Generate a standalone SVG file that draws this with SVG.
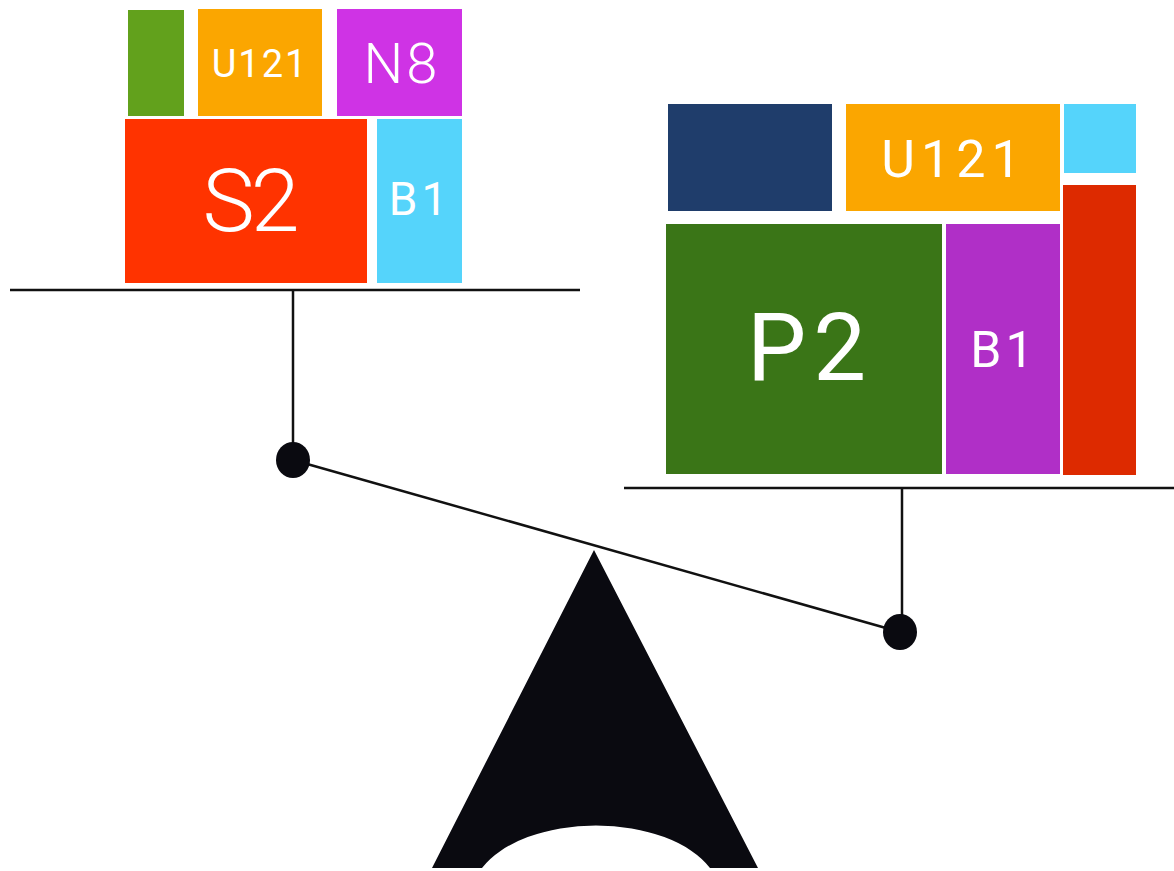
<svg xmlns="http://www.w3.org/2000/svg" width="1174" height="871" viewBox="0 0 1174 871">
<style>
.lbl{font-family:Roboto,"Liberation Sans",sans-serif;font-weight:400;fill:#ffffff;text-anchor:middle}
.thin{font-weight:300}
.bar{stroke:#111;stroke-width:2.5;fill:none}
.dot{fill:#0a0a10}
</style>
<rect width="1174" height="871" fill="#ffffff"/>
<g id="left-pan">
  <g id="l-green"><rect x="128" y="10" width="56" height="106" fill="#62a11c"/></g>
  <g id="l-u121"><rect x="198" y="9" width="124" height="107" fill="#fba600"/><text class="lbl" x="260" y="77" font-size="38" letter-spacing="2">U121</text></g>
  <g id="l-n8"><rect x="337" y="9" width="125" height="107" fill="#cf33e5"/><text class="lbl thin" x="402" y="83" font-size="56" letter-spacing="3">N8</text></g>
  <g id="l-s2"><rect x="125" y="119" width="242" height="164" fill="#ff3300"/><text class="lbl thin" x="249" y="231" font-size="88" letter-spacing="-4">S2</text></g>
  <g id="l-b1"><rect x="377" y="119" width="85" height="164" fill="#55d4fb"/><text class="lbl" x="420" y="215" font-size="46" letter-spacing="4">B1</text></g>
</g>
<g id="right-pan">
  <g id="r-navy"><rect x="668" y="104" width="164" height="107" fill="#1f3d6b"/></g>
  <g id="r-u121"><rect x="846" y="104" width="214" height="107" fill="#fba600"/><text class="lbl" x="954" y="177" font-size="52" letter-spacing="6">U121</text></g>
  <g id="r-cyan"><rect x="1064" y="104" width="72" height="69" fill="#55d4fb"/></g>
  <g id="r-red"><rect x="1063" y="185" width="73" height="290" fill="#dd2a00"/></g>
  <g id="r-p2"><rect x="666" y="224" width="276" height="250" fill="#3a7517"/><text class="lbl" x="810" y="380" font-size="94" letter-spacing="7">P2</text></g>
  <g id="r-b1"><rect x="946" y="224" width="114" height="250" fill="#b02fc7"/><text class="lbl" x="1004" y="367" font-size="50" letter-spacing="4">B1</text></g>
</g>
<g id="connectors">
  <line class="bar" x1="10" y1="290" x2="580" y2="290"/>
  <line class="bar" x1="293" y1="290" x2="293" y2="460"/>
  <line class="bar" x1="624" y1="488" x2="1174" y2="488"/>
  <line class="bar" x1="902" y1="488" x2="902" y2="632"/>
  <line class="bar" x1="293" y1="460" x2="900" y2="632"/>
</g>
<g id="pivots">
  <ellipse class="dot" cx="293" cy="460" rx="17" ry="18"/>
  <ellipse class="dot" cx="900" cy="632" rx="17" ry="18"/>
</g>
<g id="fulcrum">
  <path d="M594 550 L758 868 L710 868 A124 70 0 0 0 482 868 L432 868 Z" fill="#0a0a10"/>
</g>
</svg>
